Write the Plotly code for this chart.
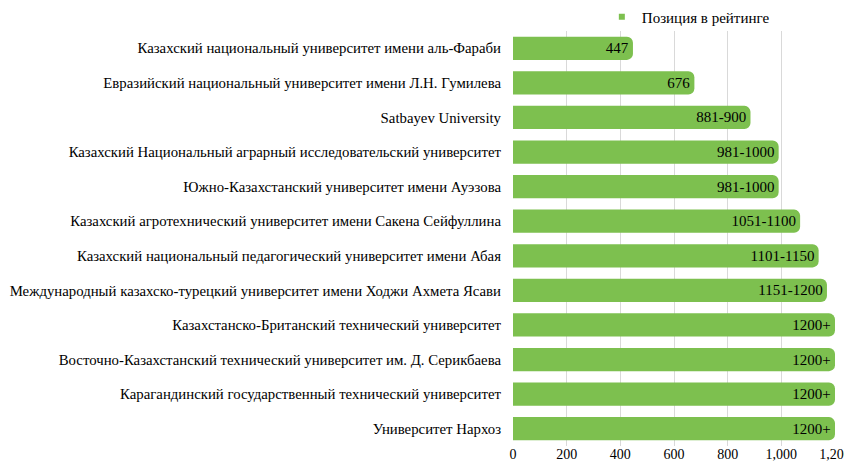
import plotly.graph_objects as go

universities = [
    "Казахский национальный университет имени аль-Фараби",
    "Евразийский национальный университет имени Л.Н. Гумилева",
    "Satbayev University",
    "Казахский Национальный аграрный исследовательский университет",
    "Южно-Казахстанский университет имени Ауэзова",
    "Казахский агротехнический университет имени Сакена Сейфуллина",
    "Казахский национальный педагогический университет имени Абая",
    "Международный казахско-турецкий университет имени Ходжи Ахмета Ясави",
    "Казахстанско-Британский технический университет",
    "Восточно-Казахстанский технический университет им. Д. Серикбаева",
    "Карагандинский государственный технический университет",
    "Университет Нархоз",
]
positions = [447, 676, 885, 990, 990, 1070, 1139, 1170, 1200, 1200, 1200, 1200]
rank_labels = ["447", "676", "881-900", "981-1000", "981-1000", "1051-1100",
               "1101-1150", "1151-1200", "1200+", "1200+", "1200+", "1200+"]
tick_vals = [0, 200, 400, 600, 800, 1000, 1200]
series_name = "Позиция в рейтинге"

FONT = "Liberation Serif"
GREEN = "#7DC04F"

fig = go.Figure()
fig.add_trace(go.Bar(
    y=universities,
    x=positions,
    orientation="h",
    name=series_name,
    showlegend=False,
    text=rank_labels,
    textposition="inside",
    insidetextanchor="end",
    constraintext="none",
    textfont=dict(family=FONT, size=15, color="#000000"),
    marker=dict(color=GREEN, cornerradius=6, line=dict(width=0)),
    hoverinfo="x+y",
))
# legend entry with a small square key, as in the reference
fig.add_trace(go.Scatter(
    x=[None], y=[None], mode="markers", name=series_name,
    marker=dict(symbol="square", size=6, color=GREEN),
    showlegend=True,
))

# the page body adds an 8px offset, so the figure is sized to fit the window
fig.update_layout(
    width=844, height=455,
    margin=dict(l=505, r=17, t=23, b=17, autoexpand=False),
    paper_bgcolor="white", plot_bgcolor="white",
    bargap=0.33,
    showlegend=True,
    legend=dict(orientation="h", x=0.7036, y=0.98, xref="container", yref="container",
                xanchor="left", yanchor="middle",
                font=dict(family=FONT, size=15, color="#000000"),
                itemwidth=30,
                bgcolor="rgba(0,0,0,0)"),
    font=dict(family=FONT, size=15, color="#000000"),
)
fig.update_xaxes(range=[0, 1200], tickvals=tick_vals, tickformat=",",
                 automargin=False,
                 showgrid=True, gridcolor="#D9D9D9", gridwidth=1,
                 zeroline=False, showline=False, ticks="",
                 ticklabelstandoff=-2,
                 tickfont=dict(family=FONT, size=14, color="#000000"))
fig.update_yaxes(autorange="reversed", showgrid=False, ticks="",
                 automargin=False,
                 ticklabelstandoff=11,
                 tickfont=dict(family=FONT, size=14.8, color="#000000"))

fig.write_html("out.html")
